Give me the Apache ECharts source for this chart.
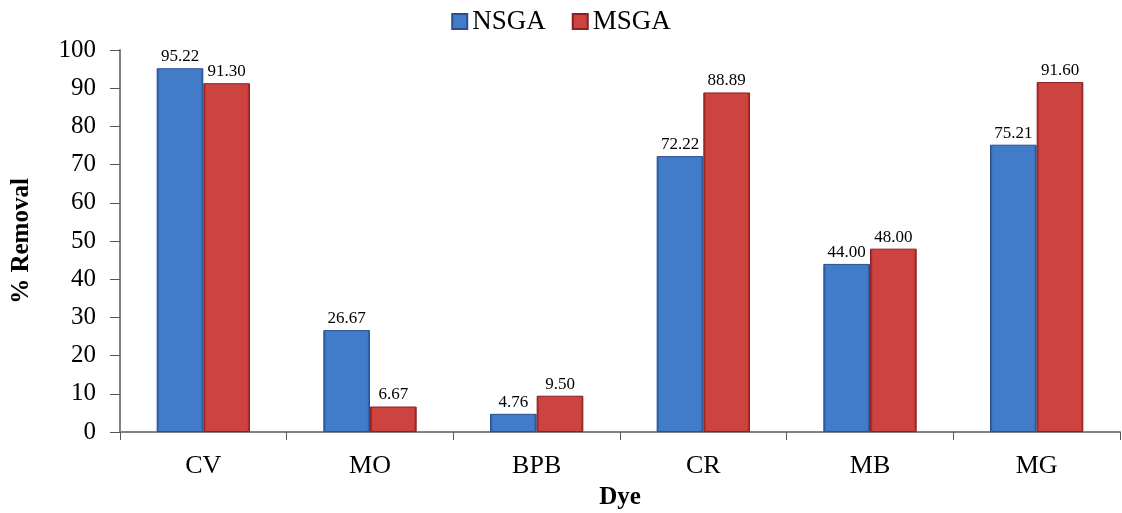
<!DOCTYPE html>
<html><head><meta charset="utf-8">
<script src="https://cdn.jsdelivr.net/npm/echarts@6/dist/echarts.min.js"></script>
<style>html,body{margin:0;padding:0;background:#fff}#c{width:1122px;height:513px}</style>
</head><body><div id="c"></div>
<script>
const categories = ['CV','MO','BPB','CR','MB','MG'];
const nsga = [95.22, 26.67, 4.76, 72.22, 44.00, 75.21];
const msga = [91.30, 6.67, 9.50, 88.89, 48.00, 91.60];
const yTicks = [0,10,20,30,40,50,60,70,80,90,100];
const F = '"Liberation Serif","Times New Roman",serif';
const chart = echarts.init(document.getElementById('c'));
function grad(top, bottom){
  return new echarts.graphic.LinearGradient(0,0,1,0,[
    {offset:0,color:bottom},{offset:0.06,color:top},{offset:0.94,color:top},{offset:1,color:bottom}]);
}
const lbl = {show:true, position:'top', distance:3, fontFamily:F, fontSize:17, color:'#000', formatter:p=>p.value.toFixed(2)};
chart.setOption({
  animation:false,
  legend:{top:3, left:'center', icon:'rect', itemWidth:15, itemHeight:15, itemGap:26,
    textStyle:{fontFamily:F, fontSize:27, color:'#000'},
    data:['NSGA','MSGA']},
  grid:{left:120, right:2, top:50, bottom:81, containLabel:false, outerBoundsMode:'none'},
  xAxis:{type:'category', data:categories,
    name:'Dye', nameLocation:'middle', nameGap:53,
    nameTextStyle:{fontFamily:F, fontSize:25, fontWeight:'bold', color:'#000'},
    axisLine:{lineStyle:{color:'#808080', width:2}},
    axisTick:{show:true, length:8, lineStyle:{color:'#555'}},
    axisLabel:{fontFamily:F, fontSize:26, color:'#000', margin:21}},
  yAxis:{type:'value', min:0, max:100, interval:10,
    name:'% Removal', nameLocation:'middle', nameGap:86,
    nameTextStyle:{fontFamily:F, fontSize:25, fontWeight:'bold', color:'#000'},
    axisLine:{show:true, lineStyle:{color:'#808080', width:2}},
    axisTick:{show:true, length:10, inside:false, lineStyle:{color:'#555'}},
    splitLine:{show:false},
    axisLabel:{fontFamily:F, fontSize:25, color:'#000', margin:24, formatter:v=>String(v)}},
  series:[
    {name:'NSGA', type:'bar', data:nsga, barGap:'0%', barCategoryGap:'44%',
     itemStyle:{color:grad('#427BC8','#1B4A9A'), borderColor:'#2a4f8f', borderWidth:1},
     label:lbl},
    {name:'MSGA', type:'bar', data:msga,
     itemStyle:{color:grad('#CC4340','#8A1414'), borderColor:'#8a2020', borderWidth:1},
     label:lbl}
  ]
});
</script></body></html>
